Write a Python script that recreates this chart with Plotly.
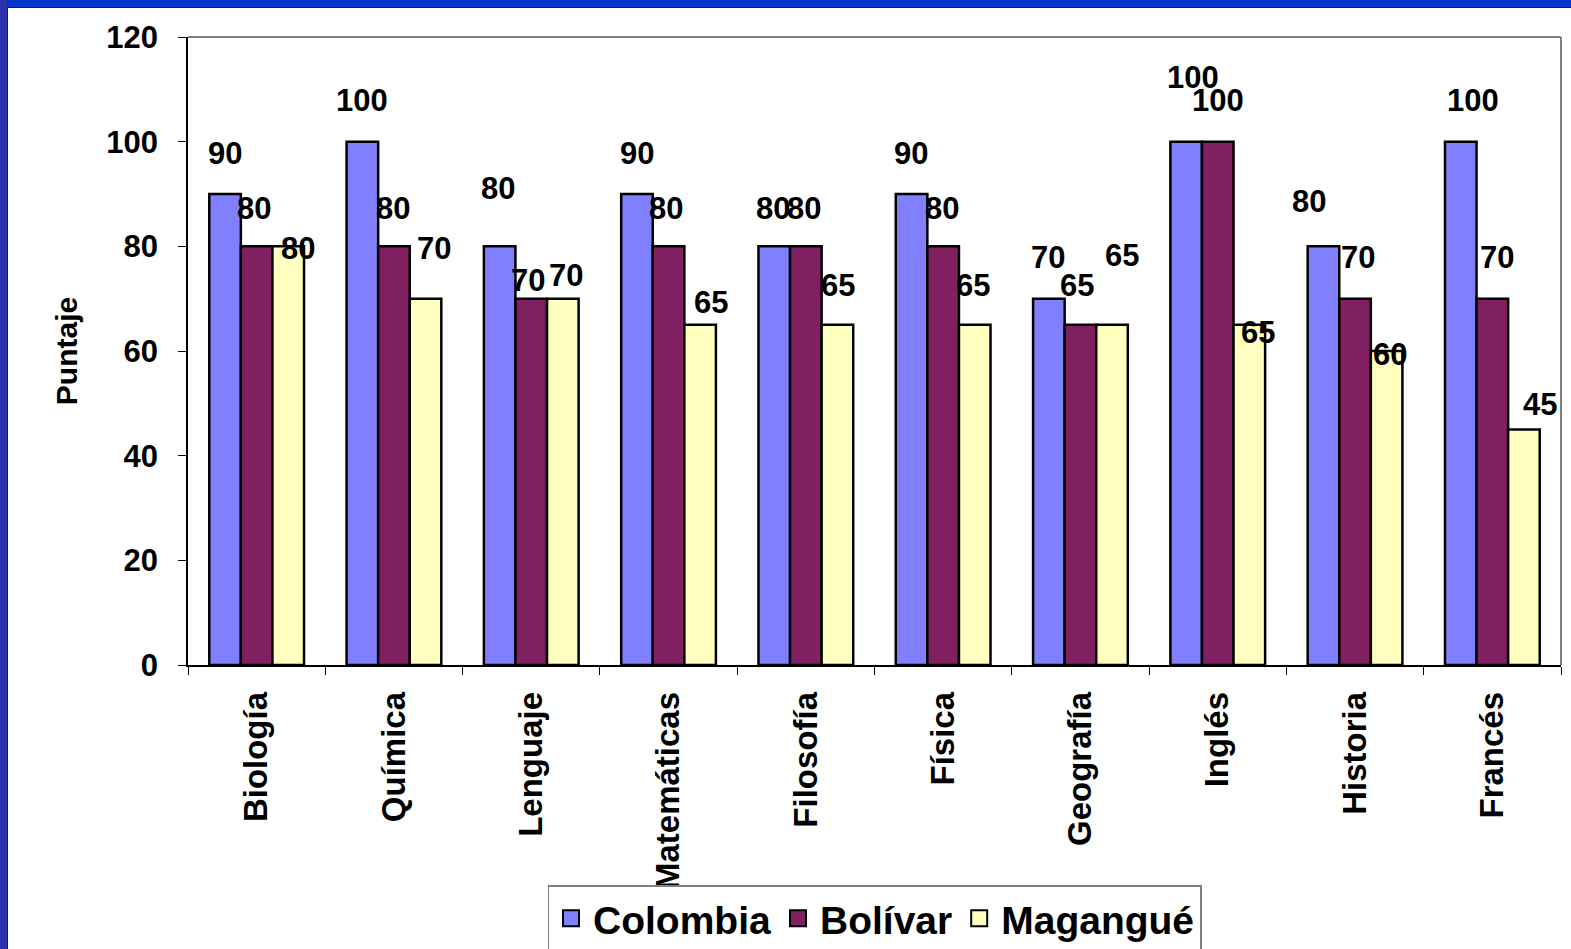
import plotly.graph_objects as go

categories = ["Biología", "Química", "Lenguaje", "Matemáticas", "Filosofía",
              "Física", "Geografía", "Inglés", "Historia", "Francés"]
colombia = [90, 100, 80, 90, 80, 90, 70, 100, 80, 100]
bolivar = [80, 80, 70, 80, 80, 80, 65, 100, 70, 70]
magangue = [80, 70, 70, 65, 65, 65, 65, 65, 60, 45]
series_names = ["Colombia", "Bolívar", "Magangué"]
y_ticks = [0, 20, 40, 60, 80, 100, 120]

# label placement tweaks (pixels): (dx, dy) relative to each bar top centre
label_dx = [
    [0, 0, -1, 0, -1, 0, 0, 7, -14, 13],
    [-3, -1, -3, -3, -2, -1, -3, 0, 3, 5],
    [9, 8, 3, 10, 0, -2, 10, 8, 3, 16],
]
label_dy = [
    [41, 41, 58, 41, 38, 41, 41, 64, 45, 41],
    [38, 38, 18, 38, 38, 38, 39, 41, 41, 41],
    [-2, 50, 23, 22, 39, 39, 69, -8, -3, 25],
]
series_shift = [-32, 0, 32]

colors = ["#8080FF", "#802060", "#FFFFC0"]
data = [colombia, bolivar, magangue]

FONT = "Liberation Sans, Arial, sans-serif"

fig = go.Figure()
for name, vals, col in zip(series_names, data, colors):
    fig.add_trace(go.Bar(
        x=categories, y=vals, name=name, showlegend=False,
        marker=dict(color=col, line=dict(color="black", width=2.5)),
    ))
# legend entries with larger square swatches
for name, col in zip(series_names, colors):
    fig.add_trace(go.Scatter(
        x=[None], y=[None], mode="markers", name=name,
        marker=dict(symbol="square", size=23, color=col, line=dict(color="black", width=2)),
    ))

annotations = []
for s, vals in enumerate(data):
    for i, v in enumerate(vals):
        annotations.append(dict(
            x=categories[i], y=v, xref="x", yref="y",
            text=str(v), showarrow=False,
            xshift=series_shift[s] + label_dx[s][i], yshift=label_dy[s][i],
            font=dict(family=FONT, size=31, color="black", weight="bold"),
        ))

W, H = 1571, 949
L, R, T, B = 188, 10, 37, 284
pw, ph = W - L - R, H - T - B

def px(x):
    return (x - L) / pw

def py(y):
    return (H - B - y) / ph

shapes = [
    # blue slide frame
    dict(type="rect", xref="paper", yref="paper", x0=px(0), x1=px(W), y0=py(0), y1=py(7),
         fillcolor="#0535C8", line=dict(width=0), layer="below"),
    dict(type="rect", xref="paper", yref="paper", x0=px(0), x1=px(7), y0=py(H), y1=py(0),
         fillcolor="#2B33AE", line=dict(width=0), layer="below"),
    dict(type="line", xref="paper", yref="paper", x0=px(7), x1=px(W), y0=py(7.5), y1=py(7.5),
         line=dict(color="#1a1a40", width=1)),
    dict(type="line", xref="paper", yref="paper", x0=px(7.5), x1=px(7.5), y0=py(H), y1=py(7),
         line=dict(color="#1a1a40", width=1)),
    # plot area border (top, right)
    dict(type="line", xref="paper", yref="paper", x0=0, x1=1, y0=1, y1=1,
         line=dict(color="#808080", width=2)),
    dict(type="line", xref="paper", yref="paper", x0=1, x1=1, y0=0, y1=1,
         line=dict(color="#808080", width=2)),
]

fig.update_layout(
    width=W, height=H,
    margin=dict(l=L, r=R, t=T, b=B, autoexpand=False),
    paper_bgcolor="white", plot_bgcolor="white",
    barmode="group", bargap=0.31, bargroupgap=0,
    font=dict(family=FONT, color="black"),
    showlegend=True,
    legend=dict(
        orientation="h", x=0.5, xanchor="center", y=py(885), yanchor="top",
        bordercolor="#808080", borderwidth=1.5, bgcolor="white",
        font=dict(family=FONT, size=39, color="black", weight="bold"),
        itemsizing="trace", itemwidth=34,
    ),
    annotations=annotations,
    shapes=shapes,
)
fig.update_xaxes(
    type="category", tickangle=-90, tickson="boundaries",
    ticks="outside", ticklen=8, tickcolor="black", tickwidth=1,
    showline=True, linecolor="black", linewidth=1.5,
    showgrid=False, ticklabelstandoff=12, automargin=False,
    tickfont=dict(family=FONT, size=33, color="black", weight="bold"),
)
fig.update_yaxes(
    range=[0, 120], tickvals=y_ticks, ticks="outside", ticklen=8,
    tickcolor="black", tickwidth=1, showline=True, linecolor="black", linewidth=1.5,
    showgrid=False, zeroline=False, ticklabelstandoff=14, automargin=False,
    tickfont=dict(family=FONT, size=31, color="black", weight="bold"),
    title=dict(text="Puntaje", standoff=20,
               font=dict(family=FONT, size=30, color="black", weight="bold")),
)

fig.write_html(
    "out.html",
    config={"displayModeBar": False},
    post_script="document.body.style.margin='0';document.body.style.overflow='hidden';",
)
